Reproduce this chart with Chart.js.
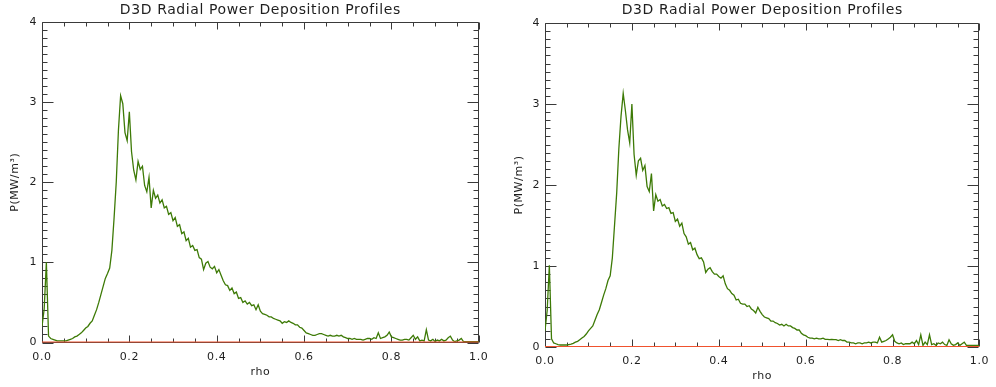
<!DOCTYPE html>
<html>
<head>
<meta charset="utf-8">
<title>D3D Radial Power Deposition Profiles</title>
<script src="https://cdn.jsdelivr.net/npm/chart.js@4.4.1/dist/chart.umd.min.js"></script>
<style>
  html, body { margin: 0; padding: 0; background: #fff; }
  canvas { position: absolute; top: 0; }
  #left { left: 0; }
  #right { left: 496px; }
</style>
</head>
<body>
<canvas id="left" width="496" height="387"></canvas>
<canvas id="right" width="500" height="387"></canvas>
<script>
// radial grid (normalised rho)
const rho = [
  0, 0.005, 0.01, 0.015, 0.02, 0.025, 0.03, 0.035, 0.04, 0.045,
  0.05, 0.055, 0.06, 0.065, 0.07, 0.075, 0.08, 0.085, 0.09, 0.095,
  0.1, 0.105, 0.11, 0.115, 0.12, 0.125, 0.13, 0.135, 0.14, 0.145,
  0.15, 0.155, 0.16, 0.165, 0.17, 0.175, 0.18, 0.185, 0.19, 0.195,
  0.2, 0.205, 0.21, 0.215, 0.22, 0.225, 0.23, 0.235, 0.24, 0.245,
  0.25, 0.255, 0.26, 0.265, 0.27, 0.275, 0.28, 0.285, 0.29, 0.295,
  0.3, 0.305, 0.31, 0.315, 0.32, 0.325, 0.33, 0.335, 0.34, 0.345,
  0.35, 0.355, 0.36, 0.365, 0.37, 0.375, 0.38, 0.385, 0.39, 0.395,
  0.4, 0.405, 0.41, 0.415, 0.42, 0.425, 0.43, 0.435, 0.44, 0.445,
  0.45, 0.455, 0.46, 0.465, 0.47, 0.475, 0.48, 0.485, 0.49, 0.495,
  0.5, 0.505, 0.51, 0.515, 0.52, 0.525, 0.53, 0.535, 0.54, 0.545,
  0.55, 0.555, 0.56, 0.565, 0.57, 0.575, 0.58, 0.585, 0.59, 0.595,
  0.6, 0.605, 0.61, 0.615, 0.62, 0.625, 0.63, 0.635, 0.64, 0.645,
  0.65, 0.655, 0.66, 0.665, 0.67, 0.675, 0.68, 0.685, 0.69, 0.695,
  0.7, 0.705, 0.71, 0.715, 0.72, 0.725, 0.73, 0.735, 0.74, 0.745,
  0.75, 0.755, 0.76, 0.765, 0.77, 0.775, 0.78, 0.785, 0.79, 0.795,
  0.8, 0.805, 0.81, 0.815, 0.82, 0.825, 0.83, 0.835, 0.84, 0.845,
  0.85, 0.855, 0.86, 0.865, 0.87, 0.875, 0.88, 0.885, 0.89, 0.895,
  0.9, 0.905, 0.91, 0.915, 0.92, 0.925, 0.93, 0.935, 0.94, 0.945,
  0.95, 0.955, 0.96, 0.965, 0.97, 0.975, 0.98, 0.985, 0.99, 0.995,
  1.0
];

// deposited power, MW/m^3 - first run
const powerRunA = [
  0.2, 0.42, 1.0, 0.08, 0.05, 0.04, 0.03, 0.02, 0.02, 0.02,
  0.02, 0.02, 0.03, 0.04, 0.05, 0.07, 0.08, 0.10, 0.12, 0.15,
  0.18, 0.20, 0.24, 0.27, 0.34, 0.41, 0.50, 0.60, 0.70, 0.80,
  0.86, 0.93, 1.15, 1.55, 2.0, 2.65, 3.08, 2.98, 2.62, 2.52,
  2.88, 2.38, 2.15, 2.03, 2.26, 2.16, 2.2, 1.96, 1.88, 2.06,
  1.68, 1.9, 1.8, 1.84, 1.74, 1.78, 1.68, 1.7, 1.6, 1.62,
  1.52, 1.56, 1.45, 1.47, 1.36, 1.38, 1.27, 1.3, 1.19, 1.21,
  1.15, 1.16, 1.06, 1.04, 0.91, 0.99, 1.01, 0.94, 0.92, 0.95,
  0.87, 0.91, 0.84, 0.77, 0.72, 0.71, 0.65, 0.68, 0.61, 0.63,
  0.55, 0.56, 0.5, 0.52, 0.48, 0.5, 0.46, 0.47, 0.41, 0.47,
  0.39, 0.36, 0.35, 0.34, 0.32, 0.32, 0.3, 0.29, 0.28, 0.27,
  0.24, 0.26, 0.25, 0.27, 0.25, 0.24, 0.22, 0.22, 0.19, 0.18,
  0.15, 0.12, 0.11, 0.1, 0.09, 0.09, 0.1, 0.11, 0.11, 0.1,
  0.09, 0.08, 0.09, 0.08, 0.08, 0.09, 0.08, 0.09, 0.07, 0.06,
  0.05, 0.05, 0.04, 0.05, 0.04, 0.04, 0.04, 0.03, 0.04, 0.05,
  0.05, 0.04, 0.06, 0.05, 0.12, 0.05, 0.06, 0.07, 0.09, 0.13,
  0.07, 0.06, 0.05, 0.04, 0.03, 0.03, 0.04, 0.04, 0.03, 0.06,
  0.09, 0.04, 0.07, 0.02, 0.03, 0.02, 0.16, 0.03, 0.02, 0.04,
  0.01, 0.03, 0.02, 0.04, 0.02, 0.03, 0.06, 0.08, 0.03, 0.01,
  0.02, 0.03, 0.05, 0.01, 0.01, 0.01, 0.01, 0.01, 0.01, 0.01,
  0.01
];

// deposited power, MW/m^3 - second run
const powerRunB = [
  0.2, 0.45, 1.01, 0.1, 0.05, 0.04, 0.03, 0.025, 0.025, 0.025,
  0.025, 0.03, 0.035, 0.045, 0.06, 0.07, 0.09, 0.11, 0.13, 0.16,
  0.2, 0.23, 0.26, 0.33, 0.4, 0.46, 0.55, 0.64, 0.72, 0.82,
  0.88, 1.1, 1.5, 1.9, 2.45, 2.85, 3.13, 2.92, 2.68, 2.52,
  3.0, 2.38, 2.12, 2.3, 2.33, 2.18, 2.24, 1.98, 1.92, 2.14,
  1.68, 1.88, 1.8, 1.82, 1.74, 1.76, 1.71, 1.72, 1.65, 1.66,
  1.55, 1.58, 1.49, 1.53, 1.4, 1.36, 1.27, 1.29, 1.2, 1.22,
  1.14, 1.09, 1.1, 1.05, 0.92, 0.96, 0.98, 0.93, 0.9, 0.9,
  0.87, 0.85, 0.88, 0.78, 0.72, 0.7, 0.66, 0.64, 0.58, 0.59,
  0.54, 0.53, 0.53, 0.5, 0.51, 0.47, 0.45, 0.42, 0.49, 0.44,
  0.4, 0.37, 0.36, 0.35, 0.32, 0.32, 0.3, 0.29, 0.27, 0.28,
  0.26, 0.28, 0.26, 0.26, 0.24, 0.23, 0.21, 0.21, 0.17, 0.15,
  0.14, 0.12, 0.11, 0.11, 0.1, 0.11, 0.1, 0.1, 0.11, 0.095,
  0.095, 0.09, 0.095, 0.09, 0.09, 0.08, 0.09, 0.08, 0.08, 0.06,
  0.06, 0.05, 0.05, 0.04, 0.05, 0.05, 0.04, 0.05, 0.05, 0.06,
  0.05, 0.06, 0.06, 0.05, 0.12, 0.06, 0.07, 0.08, 0.1, 0.12,
  0.15, 0.07, 0.05, 0.04, 0.05, 0.03, 0.04, 0.04, 0.04, 0.06,
  0.04, 0.08, 0.03, 0.15, 0.02, 0.06, 0.03, 0.15, 0.03, 0.04,
  0.02, 0.05, 0.04, 0.06, 0.03, 0.02, 0.09, 0.04, 0.02, 0.03,
  0.05, 0.02, 0.04, 0.06, 0.02, 0.02, 0.02, 0.02, 0.02, 0.02,
  0.02
];

// zero reference line
const zeroRho = [0, 1];
const zeroPower = [0, 0];

const xTickLabels = ['0.0', '0.2', '0.4', '0.6', '0.8', '1.0'];
const yTickLabels = ['0', '1', '2', '3', '4'];

const FONT = 'DejaVu Sans';
const INK = '#1e1e1e';
const AXIS = '#3a3a3a';
const GREEN = '#3d7a06';
const RED = '#f0522e';

const near = (v, step) => Math.abs(v / step - Math.round(v / step)) < 1e-6;

// IDL-style box with inward ticks on all four sides
const boxTicks = {
  id: 'boxTicks',
  beforeDraw(chart) {
    chart.ctx.letterSpacing = '0.6px';
  },
  beforeDatasetsDraw(chart) {
    const { ctx, chartArea: a, scales: { x, y } } = chart;
    ctx.save();
    ctx.strokeStyle = AXIS;
    ctx.lineWidth = 1;
    const L = Math.round(a.left) + 0.5, R = Math.round(a.right) - 0.5;
    const T = Math.round(a.top) + 0.5, B = Math.round(a.bottom) - 0.5;
    ctx.beginPath();
    ctx.rect(L, T, R - L, B - T);
    x.ticks.forEach(t => {
      const len = near(t.value, 0.2) ? 7 : 4;
      const px = Math.round(x.getPixelForValue(t.value)) + 0.5;
      ctx.moveTo(px, B); ctx.lineTo(px, B - len);
      ctx.moveTo(px, T); ctx.lineTo(px, T + len);
    });
    y.ticks.forEach(t => {
      const len = near(t.value, 1) ? 11 : 5;
      const py = Math.round(y.getPixelForValue(t.value)) + 0.5;
      ctx.moveTo(L, py); ctx.lineTo(L + len, py);
      ctx.moveTo(R, py); ctx.lineTo(R - len, py);
    });
    ctx.stroke();
    ctx.restore();
  }
};

function makeChart(id, power, g) {
  return new Chart(document.getElementById(id), {
    type: 'line',
    data: {
      labels: rho,
      datasets: [
        {
          // red zero line sits on top
          data: zeroRho.map((r, i) => ({ x: r, y: zeroPower[i] })),
          borderColor: RED,
          borderWidth: 2,
          pointRadius: 0,
          fill: false
        },
        {
          data: power,
          borderColor: GREEN,
          borderWidth: 1.3,
          pointRadius: 0,
          fill: false
        }
      ]
    },
    options: {
      responsive: false,
      animation: false,
      events: [],
      layout: { padding: { left: 0, right: g.padRight, top: 0, bottom: 0 } },
      plugins: {
        legend: { display: false },
        tooltip: { enabled: false },
        title: {
          display: true,
          fullSize: false,
          text: 'D3D Radial Power Deposition Profiles',
          color: INK,
          font: { family: FONT, size: 14, weight: 'normal', lineHeight: 1.2 },
          padding: { top: 1.6, bottom: g.titleGap }
        }
      },
      scales: {
        x: {
          type: 'linear',
          min: 0,
          max: 1,
          grid: { display: false, drawTicks: false },
          border: { display: false },
          ticks: {
            stepSize: 0.05,
            autoSkip: false,
            maxRotation: 0,
            padding: g.xLabelPad,
            color: INK,
            font: { family: FONT, size: 11, lineHeight: 1.2 },
            callback: v => near(v, 0.2) ? xTickLabels[Math.round(v / 0.2)] : ''
          },
          title: {
            display: true,
            text: 'rho',
            color: INK,
            font: { family: FONT, size: 11, lineHeight: 1.2 },
            padding: { top: 0, bottom: g.xTitlePad }
          },
          afterFit: s => { s.height = g.xHeight; }
        },
        y: {
          min: 0,
          max: 4,
          grid: { display: false, drawTicks: false },
          border: { display: false },
          ticks: {
            stepSize: 0.1,
            autoSkip: false,
            padding: g.yLabelPad,
            color: INK,
            font: { family: FONT, size: 11, lineHeight: 1.2 },
            callback: v => near(v, 1) ? yTickLabels[Math.round(v)] : ''
          },
          title: {
            display: true,
            text: 'P(MW/m³)',
            color: INK,
            font: { family: FONT, size: 11, lineHeight: 1.2 },
            padding: { top: g.yTitlePad, bottom: 0 }
          },
          afterFit: s => { s.width = g.yWidth; }
        }
      }
    },
    plugins: [boxTicks]
  });
}

makeChart('left', powerRunA, {
  padRight: 7, titleGap: 3.6, xHeight: 44.5, yWidth: 42,
  xLabelPad: 8.5, xTitlePad: 7.9, yLabelPad: 5, yTitlePad: 8.4
});
makeChart('right', powerRunB, {
  padRight: 11, titleGap: 4.6, xHeight: 40, yWidth: 49,
  xLabelPad: 7.8, xTitlePad: 4.4, yLabelPad: 5, yTitlePad: 16.4
});
</script>
</body>
</html>
